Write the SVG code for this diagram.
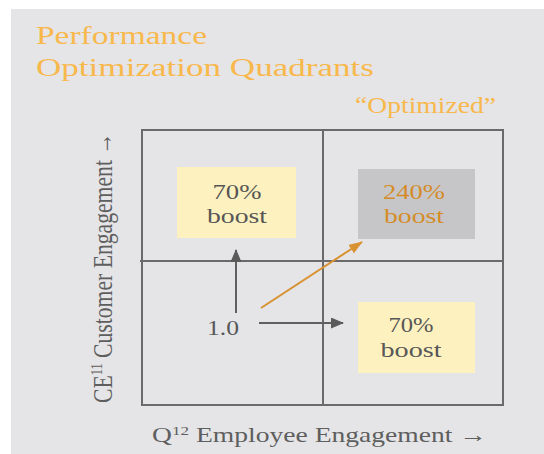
<svg xmlns="http://www.w3.org/2000/svg" width="544" height="454" viewBox="0 0 544 454">
  <style>
    .title { font-family: "Liberation Serif", "Times New Roman", serif; fill: #f8b84c; }
    .lbl { font-family: "Liberation Serif", "Times New Roman", serif; font-size: 21px; fill: #575757; text-anchor: middle; }
    .hot { fill: #d58c28; }
    .axis { font-family: "Liberation Serif", "Times New Roman", serif; fill: #5e5e5e; }
    .grid { fill: none; stroke: #6a6a6a; stroke-width: 2; }
    .gray { stroke: #606060; stroke-width: 2; fill: none; }
    .orange { stroke: #d99232; stroke-width: 2; fill: none; }
  </style>
  <defs>
    <marker id="headGray" viewBox="0 0 13 11" refX="12" refY="5.5" markerWidth="13" markerHeight="11" markerUnits="userSpaceOnUse" orient="auto">
      <path d="M0,0 L13,5.5 L0,11 Z" fill="#5a5a5a"/>
    </marker>
    <marker id="headOrange" viewBox="0 0 14 10" refX="13" refY="5" markerWidth="14" markerHeight="10" markerUnits="userSpaceOnUse" orient="auto">
      <path d="M0,0 L14,5 L0,10 Z" fill="#d99232"/>
    </marker>
  </defs>

  <!-- panel -->
  <rect x="11" y="9" width="533" height="445" fill="#e5e5e7"/>

  <!-- heading -->
  <g id="heading">
    <text class="title" x="36" y="44" font-size="25" textLength="171" lengthAdjust="spacingAndGlyphs">Performance</text>
    <text class="title" x="36" y="76" font-size="25" textLength="338" lengthAdjust="spacingAndGlyphs">Optimization Quadrants</text>
    <text class="title" x="355" y="113" font-size="23" textLength="141" lengthAdjust="spacingAndGlyphs">“Optimized”</text>
  </g>

  <!-- quadrant grid -->
  <g id="grid">
    <rect class="grid" x="142" y="130" width="361" height="275"/>
    <line class="grid" x1="323" y1="130" x2="323" y2="405"/>
    <line class="grid" x1="140" y1="261" x2="503" y2="261"/>
  </g>

  <!-- quadrant nodes -->
  <g id="node-top-left">
    <rect x="177" y="167" width="119" height="71" fill="#fdf2bf"/>
    <text class="lbl" x="237" y="199" textLength="49" lengthAdjust="spacingAndGlyphs">70%</text>
    <text class="lbl" x="237" y="223" textLength="60" lengthAdjust="spacingAndGlyphs">boost</text>
  </g>
  <g id="node-top-right">
    <rect x="358" y="169" width="117" height="70" fill="#c6c6c8"/>
    <text class="lbl hot" x="414" y="199" textLength="62" lengthAdjust="spacingAndGlyphs">240%</text>
    <text class="lbl hot" x="414" y="223" textLength="60" lengthAdjust="spacingAndGlyphs">boost</text>
  </g>
  <g id="node-bottom-right">
    <rect x="358" y="302" width="117" height="71" fill="#fdf2bf"/>
    <text class="lbl" x="411" y="332" textLength="45" lengthAdjust="spacingAndGlyphs">70%</text>
    <text class="lbl" x="411" y="357" textLength="61" lengthAdjust="spacingAndGlyphs">boost</text>
  </g>
  <g id="node-origin">
    <text class="lbl" x="223" y="335" textLength="32" lengthAdjust="spacingAndGlyphs">1.0</text>
  </g>

  <!-- connectors -->
  <g id="connectors">
    <line class="gray" x1="236" y1="313" x2="236" y2="250" marker-end="url(#headGray)"/>
    <line class="gray" x1="259" y1="323" x2="343" y2="323" marker-end="url(#headGray)"/>
    <line class="orange" x1="261" y1="308" x2="362" y2="242" marker-end="url(#headOrange)"/>
  </g>

  <!-- axis labels -->
  <g id="axis-x">
    <text class="axis" x="152" y="442" font-size="21" textLength="335" lengthAdjust="spacingAndGlyphs">Q<tspan font-size="13" dy="-7">12</tspan><tspan dy="7"> Employee Engagement →</tspan></text>
  </g>
  <g id="axis-y">
    <text class="axis" transform="translate(112 403) rotate(-90)" x="0" y="0" font-size="28" textLength="270" lengthAdjust="spacingAndGlyphs">CE<tspan font-size="16" dy="-10">11</tspan><tspan dy="10"> Customer Engagement →</tspan></text>
  </g>
</svg>
